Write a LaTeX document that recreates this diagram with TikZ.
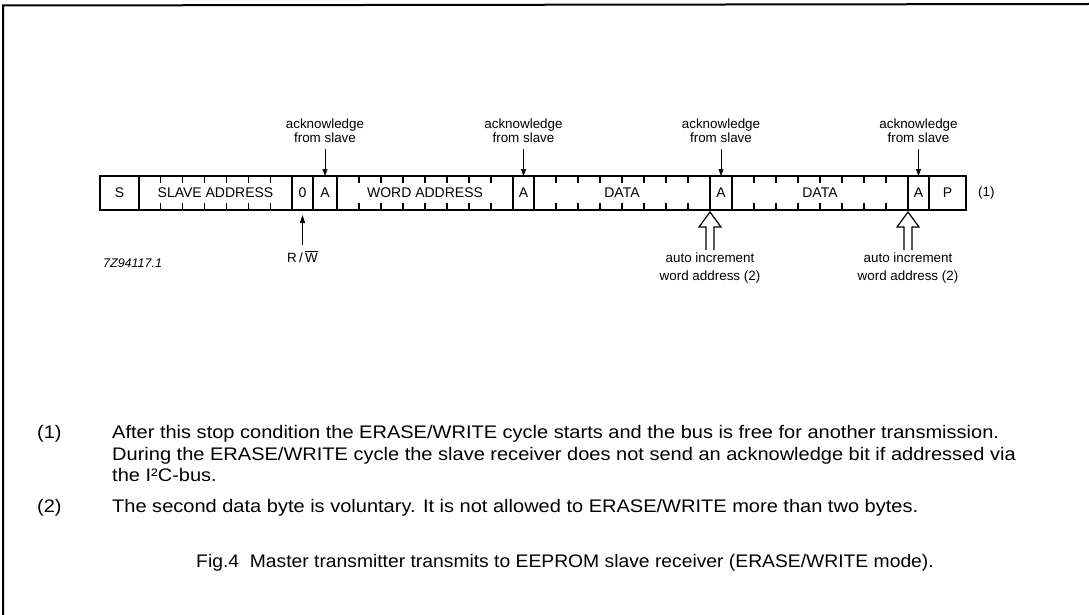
\documentclass[tikz,border=0pt]{standalone}
\usepackage{fontspec}
\setmainfont{Liberation Sans}
\newfontfamily\notefont[FakeStretch=1.1]{Liberation Sans}
\newfontfamily\capfont[FakeStretch=1.06]{Liberation Sans}
\usetikzlibrary{arrows.meta,calc}
\begin{document}
\begin{tikzpicture}[x=1pt,y=-1pt,
  field/.style={draw, line width=1.3pt, minimum height=34pt, inner sep=0pt, outer sep=0pt,
                font=\fontsize{14}{14}\selectfont},
  tick/.style={line width=1.1pt},
  lbl/.style={font=\fontsize{13.4}{14}\selectfont, align=center, inner sep=0pt},
  ackarrow/.style={-{Triangle[length=7pt,width=5pt]}, line width=0.6pt},
  note/.style={font=\notefont\fontsize{18.2}{21.5}\selectfont, anchor=base west, inner sep=0pt},
  hollowup/.pic={\draw[line width=1.2pt, line join=miter]
      (-4,38) -- (-4,15) -- (-11,15) -- (0,0) -- (11,15) -- (4,15) -- (4,38);},
]
\useasboundingbox (0,0) rectangle (1089,615);
% frame
\draw[line width=2pt] (3,615) -- (3,5.5) -- (1089,4);

% fields of the bus frame
\node[field, minimum width=39pt]  (S)  at (119.5,193) {S};
\node[field, minimum width=153pt] (SA) at (215.5,193) {SLAVE ADDRESS};
\node[field, minimum width=21pt]  (R0) at (302.5,193) {0};
\node[field, minimum width=24pt]  (A1) at (325,193)   {A};
\node[field, minimum width=176pt] (WA) at (425,193)   {WORD ADDRESS};
\node[field, minimum width=21pt]  (A2) at (523.5,193) {A};
\node[field, minimum width=176pt] (D1) at (622,193)   {DATA};
\node[field, minimum width=22pt]  (A3) at (721,193)   {A};
\node[field, minimum width=176pt] (D2) at (820,193)   {DATA};
\node[field, minimum width=21pt]  (A4) at (918.5,193) {A};
\node[field, minimum width=37pt]  (P)  at (947.5,193) {P};
\node[lbl, anchor=west] (n1) at (978,193) {(1)};

% bit ticks
\foreach \f/\n in {SA/7, WA/8, D1/8, D2/8}{
  \pgfmathtruncatemacro{\m}{\n-1}
  \foreach \k in {1,...,\m}{
    \draw[tick] ($(\f.north west)!\k/\n!(\f.north east)$) -- ++(0,7);
    \draw[tick] ($(\f.south west)!\k/\n!(\f.south east)$) -- ++(0,-7);
  }
}

% acknowledge labels
\foreach \a in {A1,A2,A3,A4}{
  \node[lbl, anchor=south] (k\a) at ($(\a.north)+(0,-33)$) {acknowledge\\from slave};
  \draw[ackarrow, shorten <=6pt] (k\a) -- (\a.north);
}

% R/W
\node[lbl, anchor=base] (rw) at (302.5,262) {R\,/\,$\overline{\hbox{W}}$};
\draw[-{Triangle[length=8pt,width=5pt]}, line width=0.7pt, shorten <=6pt, shorten >=5pt] (rw) -- (R0.south);

\node[lbl, anchor=base west, font=\itshape\fontsize{12.5}{13}\selectfont] (id) at (103,267) {7Z94117.1};

% auto increment arrows
\foreach \d/\x in {D1/710, D2/908}{
  \pic at ($(\d.south east)+(0,2)$) {hollowup};
  \node[lbl, anchor=base, align=center, font=\fontsize{13.4}{18}\selectfont] (ai\d) at (\x,280)
     {auto increment\\word address (2)};
}

% notes
\node[note] (f1) at (37,438) {(1)};
\node[note] (t1) at (112,438) {After this stop condition the ERASE/WRITE cycle starts and the bus is free for another transmission.};
\node[note] (t2) at (112,460) {During the ERASE/WRITE cycle the slave receiver does not send an acknowledge bit if addressed via};
\node[note] (t3) at (112,481) {the I²C-bus.};
\node[note] (f2) at (37,512) {(2)};
\node[note] (t4) at (112,512) {The second data byte is voluntary. It is not allowed to ERASE/WRITE more than two bytes.};
\node[note, anchor=base, font=\capfont\fontsize{18.2}{21.5}\selectfont] (cap) at (565,567)
  {Fig.4\ \ Master transmitter transmits to EEPROM slave receiver (ERASE/WRITE mode).};
\end{tikzpicture}
\end{document}
